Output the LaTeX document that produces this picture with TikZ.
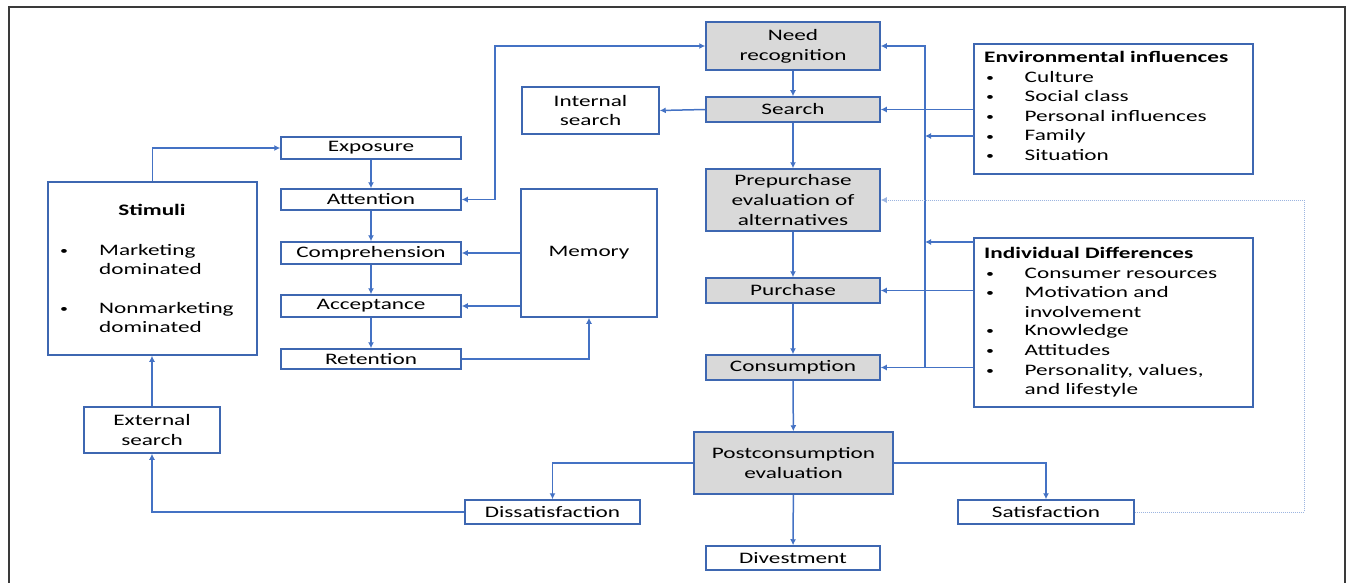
\documentclass[tikz,border=0pt]{standalone}
\usepackage{fontspec}
\setmainfont{Carlito}[FakeStretch=1.45]
\usetikzlibrary{arrows.meta}
\definecolor{lineblue}{HTML}{4472C4}
\definecolor{boxblue}{HTML}{3E67B1}
\definecolor{greyfill}{HTML}{D9D9D9}
\definecolor{dotblue}{HTML}{9DB5E0}
\definecolor{framegrey}{HTML}{3A3A3A}
\begin{document}
\begin{tikzpicture}[x=1pt,y=-1pt,
  box/.style={draw=boxblue, line width=1.5pt, inner sep=0pt, align=center,
    font=\fontsize{16}{19.8}\selectfont, text=black},
  proc/.style={box, fill=greyfill},
  arr/.style={draw=lineblue, line width=1.5pt, -{Latex[length=6pt,width=6pt]}},
  darr/.style={draw=lineblue, line width=1.5pt, {Latex[length=6pt,width=6pt]}-{Latex[length=6pt,width=6pt]}},
  dotarr/.style={draw=dotblue, line width=1pt, densely dotted, -{Latex[length=6pt,width=6pt]}},
  txt/.style={inner sep=0pt, anchor=base west, font=\fontsize{16}{19.5}\selectfont},
  bul/.style={inner sep=0pt, anchor=base, font=\fontsize{11}{13}\selectfont},
  bold/.style={inner sep=0pt, font=\fontsize{16}{19.5}\selectfont\bfseries}
]
\useasboundingbox (0,0) rectangle (1349,583);
\draw[framegrey, line width=1.5pt] (9,590) -- (9,7) -- (1345,7) -- (1345,590);

% main chain
\node[proc, minimum width=174, minimum height=48] (need) at (793,46) {Need\\recognition};
\node[proc, minimum width=174, minimum height=25] (search) at (793,109.5) {Search};
\node[proc, minimum width=174, minimum height=62] (pre) at (793,200) {Prepurchase\\evaluation of\\alternatives};
\node[proc, minimum width=174, minimum height=25] (purchase) at (793,290.5) {Purchase};
\node[proc, minimum width=174, minimum height=25] (cons) at (793,367.5) {Consumption};
\node[proc, minimum width=199, minimum height=62] (post) at (793.5,463) {Postconsumption\\evaluation};
\node[box, minimum width=174, minimum height=24] (divest) at (793,558) {Divestment};
\node[box, minimum width=176, minimum height=24] (sat) at (1046,512) {Satisfaction};
\node[box, minimum width=175, minimum height=24] (dissat) at (552.5,512) {Dissatisfaction};
\node[box, minimum width=136, minimum height=46] (ext) at (152,430) {External\\search};
\node[box, minimum width=209, minimum height=173] (stim) at (152.5,268.5) {};
\node[box, minimum width=180, minimum height=22] (expo) at (371,148) {Exposure};
\node[box, minimum width=180, minimum height=21] (att) at (371,199.5) {Attention};
\node[box, minimum width=180, minimum height=22] (comp) at (371,253) {Comprehension};
\node[box, minimum width=180, minimum height=22] (acc) at (371,306) {Acceptance};
\node[box, minimum width=180, minimum height=20] (ret) at (371,359) {Retention};
\node[box, minimum width=136, minimum height=128] (mem) at (589,253) {Memory};
\node[box, minimum width=137, minimum height=47] (int) at (590.5,110.5) {Internal\\search};
\node[box, minimum width=279, minimum height=130] (env) at (1113.5,109) {};
\node[box, minimum width=279, minimum height=169] (ind) at (1113.5,322.5) {};

% stimuli text
\node[bold, anchor=base] (stimt) at (152,215.5) {Stimuli};
\node[bul] (sb1) at (64,254) {•};
\node[txt] (st1) at (99,255) {Marketing};
\node[txt] (st2) at (99,274) {dominated};
\node[bul] (sb2) at (64,312) {•};
\node[txt] (st3) at (99,313) {Nonmarketing};
\node[txt] (st4) at (99,332) {dominated};

% environmental text
\node[bold, anchor=base west] (envt) at (984,63) {Environmental influences};
\node[bul] (eb1) at (990,82) {•};   \node[txt] (et1) at (1024.5,83) {Culture};
\node[bul] (eb2) at (990,101) {•};  \node[txt] (et2) at (1024.5,102) {Social class};
\node[bul] (eb3) at (990,121) {•};  \node[txt] (et3) at (1024.5,122) {Personal influences};
\node[bul] (eb4) at (990,140) {•};  \node[txt] (et4) at (1024.5,141) {Family};
\node[bul] (eb5) at (990,159.5) {•};\node[txt] (et5) at (1024.5,160.5) {Situation};

% individual text
\node[bold, anchor=base west] (indt) at (984,258) {Individual Differences};
\node[bul] (ib1) at (990,277) {•};   \node[txt] (it1) at (1024.5,278) {Consumer resources};
\node[bul] (ib2) at (990,296) {•};   \node[txt] (it2) at (1024.5,297) {Motivation and};
\node[txt] (it2b) at (1024.5,317) {involvement};
\node[bul] (ib3) at (990,334.5) {•}; \node[txt] (it3) at (1024.5,335.5) {Knowledge};
\node[bul] (ib4) at (990,354) {•};   \node[txt] (it4) at (1024.5,355) {Attitudes};
\node[bul] (ib5) at (990,374) {•};   \node[txt] (it5) at (1024.5,375) {Personality, values,};
\node[txt] (it5b) at (1024.5,394.5) {and lifestyle};

% helper coordinates
\coordinate (bus) at (925,0);
\coordinate (j1) at (495,0);
\coordinate (dr) at (1304,0);
\coordinate (eb) at (974,136);
\coordinate (ib) at (974,242);

% main chain arrows
\draw[arr] (need) -- (search);
\draw[arr] (search) -- (pre);
\draw[arr] (pre) -- (purchase);
\draw[arr] (purchase) -- (cons);
\draw[arr] (cons) -- (post);
\draw[arr] (post) -- (divest);
\draw[arr] (post.west) -| (dissat.north);
\draw[arr] (post.east) -| (sat.north);
\draw[arr] (dissat.west) -| (ext.south);
\draw[arr] (ext.north) -- (ext.north |- stim.south);
\draw[arr] (stim.north) |- (expo.west);
\draw[arr] (expo) -- (att);
\draw[arr] (att) -- (comp);
\draw[arr] (comp) -- (acc);
\draw[arr] (acc) -- (ret);
\draw[arr] (mem.west) -- (comp.east);
\draw[arr] (mem.west |- acc.east) -- (acc.east);
\draw[arr] (ret.east) -| (mem.south);
\draw[darr] (att.east) -- (att.east -| j1) |- (need.west);
\draw[arr] (search.west) -- (int.east);

% influences
\draw[arr] (env.west |- search.east) -- (search.east);
\draw[arr] (eb) -- (eb -| bus);
\draw[arr] (ib) -- (ib -| bus);
\draw[arr] (ind.west |- purchase.east) -- (purchase.east);
\draw[arr] (ind.west |- cons.east) -- (cons.east);
\draw[arr] (cons.east -| bus) -- (need.east -| bus) -- (need.east);

% feedback
\draw[dotarr] (sat.east) -- (sat.east -| dr) |- (pre.east);
\end{tikzpicture}
\end{document}
